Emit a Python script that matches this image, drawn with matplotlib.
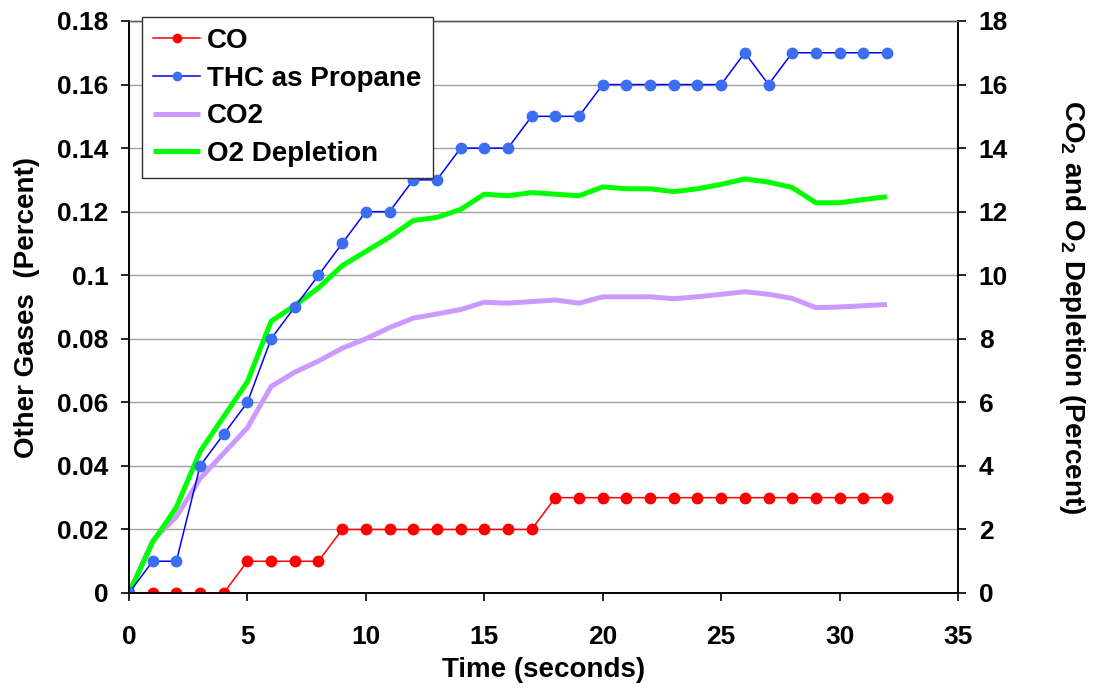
import matplotlib

matplotlib.use("Agg")
import matplotlib.pyplot as plt
from matplotlib.ticker import FormatStrFormatter, MultipleLocator

# Time (seconds)
time_s = list(range(33))

# Left axis: other gases (percent)
co = [0, 0, 0, 0, 0, 0.01, 0.01, 0.01, 0.01, 0.02, 0.02, 0.02, 0.02, 0.02, 0.02, 0.02, 0.02,
      0.02, 0.03, 0.03, 0.03, 0.03, 0.03, 0.03, 0.03, 0.03, 0.03, 0.03, 0.03, 0.03, 0.03, 0.03, 0.03]
thc = [0, 0.01, 0.01, 0.04, 0.05, 0.06, 0.08, 0.09, 0.10, 0.11, 0.12, 0.12, 0.13, 0.13, 0.14, 0.14, 0.14,
       0.15, 0.15, 0.15, 0.16, 0.16, 0.16, 0.16, 0.16, 0.16, 0.17, 0.16, 0.17, 0.17, 0.17, 0.17, 0.17]

# Right axis: CO2 and O2 depletion (percent)
co2 = [0, 1.65, 2.4, 3.6, 4.4, 5.2, 6.5, 6.95, 7.3, 7.7, 8.0, 8.35, 8.65, 8.78, 8.92, 9.15, 9.12,
       9.17, 9.22, 9.12, 9.32, 9.32, 9.32, 9.26, 9.32, 9.4, 9.48, 9.4, 9.27, 8.98, 9.0, 9.04, 9.08]
o2_depletion = [0, 1.6, 2.7, 4.45, 5.55, 6.65, 8.55, 9.05, 9.6, 10.3, 10.75, 11.2, 11.72, 11.82, 12.07,
                12.55, 12.5, 12.6, 12.55, 12.5, 12.78, 12.72, 12.72, 12.63, 12.72, 12.86, 13.03, 12.93,
                12.76, 12.28, 12.28, 12.38, 12.47]

plt.rcParams["font.family"] = ["Liberation Sans", "DejaVu Sans"]
plt.rcParams["font.weight"] = "bold"
plt.rcParams["mathtext.fontset"] = "custom"
plt.rcParams["mathtext.rm"] = "Liberation Sans:bold"
plt.rcParams["mathtext.bf"] = "Liberation Sans:bold"

fig = plt.figure(figsize=(10.99, 6.90), dpi=100)
ax2 = fig.add_axes([129 / 1099, 97 / 690, 829 / 1099, 572 / 690])
ax = ax2.twinx()
# left-axis series drawn above right-axis series
ax.set_zorder(ax2.get_zorder() + 1)
ax.patch.set_visible(False)

# left axis lives on the left, right axis on the right
ax.yaxis.tick_left()
ax.yaxis.set_label_position("left")
ax2.yaxis.tick_right()
ax2.yaxis.set_label_position("right")

l3, = ax2.plot(time_s, co2, color="#cc99ff", lw=3.6, label="CO2", solid_capstyle="butt")
l4, = ax2.plot(time_s, o2_depletion, color="#00ff00", lw=3.6, label="O2 Depletion", solid_capstyle="butt")
l1, = ax.plot(time_s, co, color="#ff0000", lw=1.1, marker="o", ms=7.5, mfc="#ff0000", mec="#ff0000", label="CO")
l2, = ax.plot(time_s, thc, color="#0000ff", lw=1.1, marker="o", ms=7.5, mfc="#3c6ef2", mec="#3c6ef2",
              label="THC as Propane")

ax.set_xlim(0, 35)
ax.set_ylim(0, 0.18)
ax2.set_ylim(0, 18)
ax2.xaxis.set_major_locator(MultipleLocator(5))
ax.yaxis.set_major_locator(MultipleLocator(0.02))
ax2.yaxis.set_major_locator(MultipleLocator(2))
ax.yaxis.set_major_formatter(FormatStrFormatter("%g"))

ax2.grid(axis="y", color="#a0a0a0", lw=1.0)
ax2.set_axisbelow(True)

for a in (ax, ax2):
    a.spines["top"].set_color("#606060")
    a.spines["top"].set_linewidth(1.0)
    for s in ("left", "right", "bottom"):
        a.spines[s].set_color("black")
        a.spines[s].set_linewidth(1.2)
    a.tick_params(labelsize=19, length=6, width=1.2, direction="out", pad=9)
ax2.tick_params(axis="x", labelsize=19, pad=17)

ax2.set_xlabel("Time (seconds)", fontsize=20, fontweight="bold", labelpad=6)
ax.set_ylabel("Other Gases  (Percent)", fontsize=20, fontweight="bold", labelpad=12)
ax2.set_ylabel(r"CO$_\mathbf{2}$ and O$_\mathbf{2}$ Depletion (Percent)", fontsize=20, fontweight="bold",
               rotation=270, labelpad=57)

leg = ax.legend(handles=[l1, l2, l3, l4], loc="upper left",
                bbox_to_anchor=(142 / 1099, 1 - 17 / 690), bbox_transform=fig.transFigure,
                borderaxespad=0, fancybox=False, framealpha=1, edgecolor="#303030",
                prop={"size": 20, "weight": "bold"}, handlelength=1.7, labelspacing=0.42,
                borderpad=0.4, handletextpad=0.25, markerscale=0.8)
leg.get_frame().set_linewidth(1.0)

fig.savefig("out.png", dpi=100)
